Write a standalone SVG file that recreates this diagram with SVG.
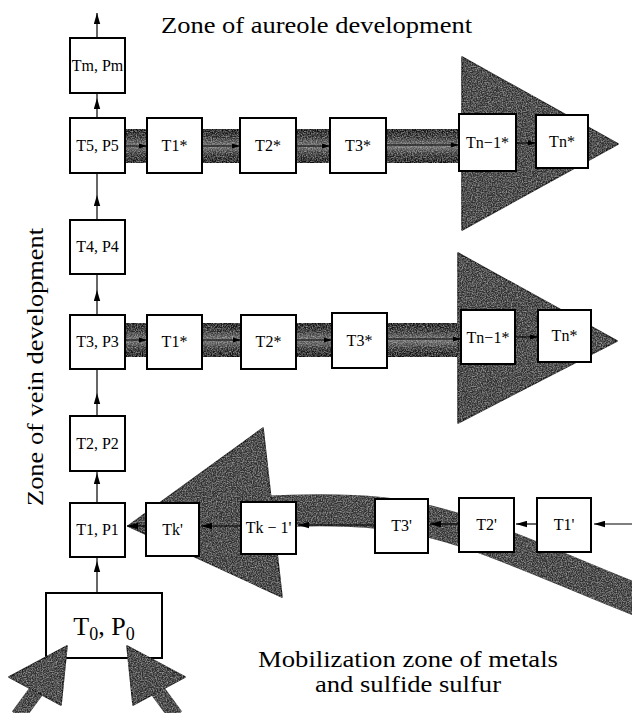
<svg xmlns="http://www.w3.org/2000/svg" width="632" height="713" viewBox="0 0 632 713">
<defs>
<style>
.box{fill:#fff;stroke:#000;stroke-width:2}
.lbl{font-size:16px;fill:#000;text-anchor:middle}
.big{font-size:24px;fill:#000}
.tri{fill:#2e2e2e;stroke:#111;stroke-width:1.5;stroke-linejoin:round}
.band{fill:url(#bandg)}
.con{fill:none;stroke:#000;stroke-width:1.2}
.conl{fill:none;stroke:#000;stroke-width:1}
</style>
<linearGradient id="bandg" x1="0" y1="0" x2="0" y2="1">
<stop offset="0" stop-color="#080808"/>
<stop offset="0.25" stop-color="#262626"/>
<stop offset="0.5" stop-color="#6a6a6a"/>
<stop offset="0.75" stop-color="#262626"/>
<stop offset="1" stop-color="#080808"/>
</linearGradient>
<filter id="grain" filterUnits="userSpaceOnUse" x="0" y="0" width="632" height="713" color-interpolation-filters="sRGB">
<feTurbulence type="fractalNoise" baseFrequency="0.8" numOctaves="2" seed="5" result="n"/>
<feColorMatrix in="n" type="matrix" values="0 0 0 0 0.75  0 0 0 0 0.75  0 0 0 0 0.75  1.5 0 0 0 -0.5" result="w"/>
<feComposite in="w" in2="SourceAlpha" operator="in" result="ws"/>
<feMerge><feMergeNode in="SourceGraphic"/><feMergeNode in="ws"/></feMerge>
</filter>
<marker id="ah" viewBox="-11 -3.5 12 7" refX="0" refY="0" markerWidth="12" markerHeight="7" markerUnits="userSpaceOnUse" orient="auto">
<path d="M0,0 L-11,-3.2 L-11,3.2 Z" fill="#000"/>
</marker>
<marker id="ahs" viewBox="-8 -3 9 6" refX="0" refY="0" markerWidth="9" markerHeight="6" markerUnits="userSpaceOnUse" orient="auto">
<path d="M0,0 L-8,-2.5 L-8,2.5 Z" fill="#000"/>
</marker>
</defs>

<rect width="632" height="713" fill="#fff"/>

<!-- shaded flows -->
<g id="flows" filter="url(#grain)">
<rect class="band" x="125" y="129" width="345" height="34"/>
<polygon class="tri" points="462,57 618,144 462,230"/>
<rect class="band" x="125" y="323" width="340" height="34"/>
<polygon class="tri" points="458,253 617,341 458,423"/>
<path d="M640,601 C540,562 460,520 380,513 C340,509 300,510 262,512" fill="none" stroke="#2e2e2e" stroke-width="32"/>
<polygon class="tri" points="128,526 263,428 282,597"/>
</g>

<!-- connectors -->
<g id="connectors">
<path class="con" d="M97,38 L97,13" marker-end="url(#ah)"/>
<path class="con" d="M97,118 L97,98 L97,93" marker-mid="url(#ah)"/>
<path class="con" d="M97,220 L97,195 L97,173" marker-mid="url(#ah)"/>
<path class="con" d="M97,315 L97,290 L97,274" marker-mid="url(#ah)"/>
<path class="con" d="M97,416 L97,393 L97,369" marker-mid="url(#ah)"/>
<path class="con" d="M97,503 L97,473 L97,471" marker-mid="url(#ah)"/>
<path class="con" d="M97,593 L97,561 L97,557" marker-mid="url(#ah)"/>

<path class="conl" d="M125,146 L147,146" marker-end="url(#ahs)"/>
<path class="conl" d="M202,146 L240,146" marker-end="url(#ahs)"/>
<path class="conl" d="M296,146 L330,146" marker-end="url(#ahs)"/>
<path class="conl" d="M386,145 L459,145" marker-end="url(#ahs)"/>
<path class="conl" d="M516,143 L536,143" marker-end="url(#ahs)"/>

<path class="conl" d="M125,340 L147,340" marker-end="url(#ahs)"/>
<path class="conl" d="M202,340 L241,340" marker-end="url(#ahs)"/>
<path class="conl" d="M296,340 L332,340" marker-end="url(#ahs)"/>
<path class="conl" d="M387,339 L461,339" marker-end="url(#ahs)"/>
<path class="conl" d="M515,337 L538,337" marker-end="url(#ahs)"/>

<path class="con" d="M632,524 L594,524" marker-end="url(#ah)"/>
<path class="con" d="M537,524 L516,524" marker-end="url(#ah)"/>
<path class="con" d="M459,524 L430,524" marker-end="url(#ah)"/>
<path class="con" d="M375,525 L298,525" marker-end="url(#ah)"/>
<path class="con" d="M241,526 L201,526" marker-end="url(#ah)"/>
<path class="con" d="M146,526 L127,526" marker-end="url(#ah)"/>
</g>

<g font-family="'Liberation Serif', 'DejaVu Serif', serif">
<!-- left column -->
<g id="TmPm"><rect class="box" x="70" y="38" width="55" height="55"/><text class="lbl" x="97.5" y="71">Tm, Pm</text></g>
<g id="T5P5"><rect class="box" x="70" y="118" width="55" height="55"/><text class="lbl" x="97.5" y="151">T5, P5</text></g>
<g id="T4P4"><rect class="box" x="70" y="220" width="55" height="54"/><text class="lbl" x="97.5" y="252">T4, P4</text></g>
<g id="T3P3"><rect class="box" x="70" y="315" width="55" height="54"/><text class="lbl" x="97.5" y="347">T3, P3</text></g>
<g id="T2P2"><rect class="box" x="70" y="416" width="55" height="55"/><text class="lbl" x="97.5" y="449">T2, P2</text></g>
<g id="T1P1"><rect class="box" x="70" y="503" width="55" height="54"/><text class="lbl" x="97.5" y="535">T1, P1</text></g>
<g id="T0P0"><rect class="box" x="46" y="593" width="116" height="65"/>
<text x="104" y="635" text-anchor="middle" font-size="26">T<tspan font-size="18" dy="5">0</tspan><tspan dy="-5">, P</tspan><tspan font-size="18" dy="5">0</tspan></text></g>

<!-- row 1 -->
<g id="r1T1"><rect class="box" x="147" y="118" width="55" height="55"/><text class="lbl" x="174.5" y="151">T1*</text></g>
<g id="r1T2"><rect class="box" x="240" y="118" width="56" height="55"/><text class="lbl" x="268" y="151">T2*</text></g>
<g id="r1T3"><rect class="box" x="330" y="118" width="56" height="55"/><text class="lbl" x="358" y="151">T3*</text></g>
<g id="r1Tn1"><rect class="box" x="459" y="114" width="57" height="57"/><text class="lbl" x="487.5" y="148">Tn−1*</text></g>
<g id="r1Tn"><rect class="box" x="536" y="115" width="52" height="53"/><text class="lbl" x="562" y="147">Tn*</text></g>

<!-- row 2 -->
<g id="r2T1"><rect class="box" x="147" y="315" width="55" height="54"/><text class="lbl" x="174.5" y="347">T1*</text></g>
<g id="r2T2"><rect class="box" x="241" y="315" width="55" height="54"/><text class="lbl" x="268.5" y="347">T2*</text></g>
<g id="r2T3"><rect class="box" x="332" y="313" width="55" height="55"/><text class="lbl" x="359.5" y="346">T3*</text></g>
<g id="r2Tn1"><rect class="box" x="461" y="310" width="54" height="54"/><text class="lbl" x="488" y="343">Tn−1*</text></g>
<g id="r2Tn"><rect class="box" x="538" y="310" width="53" height="52"/><text class="lbl" x="564.5" y="341">Tn*</text></g>

<!-- row 3 -->
<g id="Tk"><rect class="box" x="146" y="503" width="53" height="53"/><text class="lbl" x="172.5" y="535">Tk'</text></g>
<g id="Tk1"><rect class="box" x="241" y="502" width="55" height="52"/><text class="lbl" x="268.5" y="533">Tk − 1'</text></g>
<g id="T3p"><rect class="box" x="375" y="499" width="53" height="54"/><text class="lbl" x="401.5" y="531">T3'</text></g>
<g id="T2p"><rect class="box" x="459" y="498" width="55" height="54"/><text class="lbl" x="486.5" y="530">T2'</text></g>
<g id="T1p"><rect class="box" x="537" y="498" width="54" height="54"/><text class="lbl" x="564" y="530">T1'</text></g>

<!-- labels -->
<g id="labels">
<text class="big" x="161" y="33" textLength="311" lengthAdjust="spacingAndGlyphs">Zone of aureole development</text>
<text class="big" transform="translate(43,506) rotate(-90)" textLength="278" lengthAdjust="spacingAndGlyphs">Zone of vein development</text>
<text class="big" x="258" y="667" textLength="300" lengthAdjust="spacingAndGlyphs">Mobilization zone of metals</text>
<text class="big" x="315" y="692" textLength="186" lengthAdjust="spacingAndGlyphs">and sulfide sulfur</text>
</g>
</g>

<!-- inflow arrows at T0 -->
<g id="inflow" filter="url(#grain)">
<path d="M18,716 L40,686" stroke="#2e2e2e" stroke-width="15" fill="none"/>
<polygon class="tri" points="67,646 9,677 61,705"/>
<path d="M176,716 L154,686" stroke="#2e2e2e" stroke-width="15" fill="none"/>
<polygon class="tri" points="127,646 185,677 133,705"/>
</g>
</svg>
